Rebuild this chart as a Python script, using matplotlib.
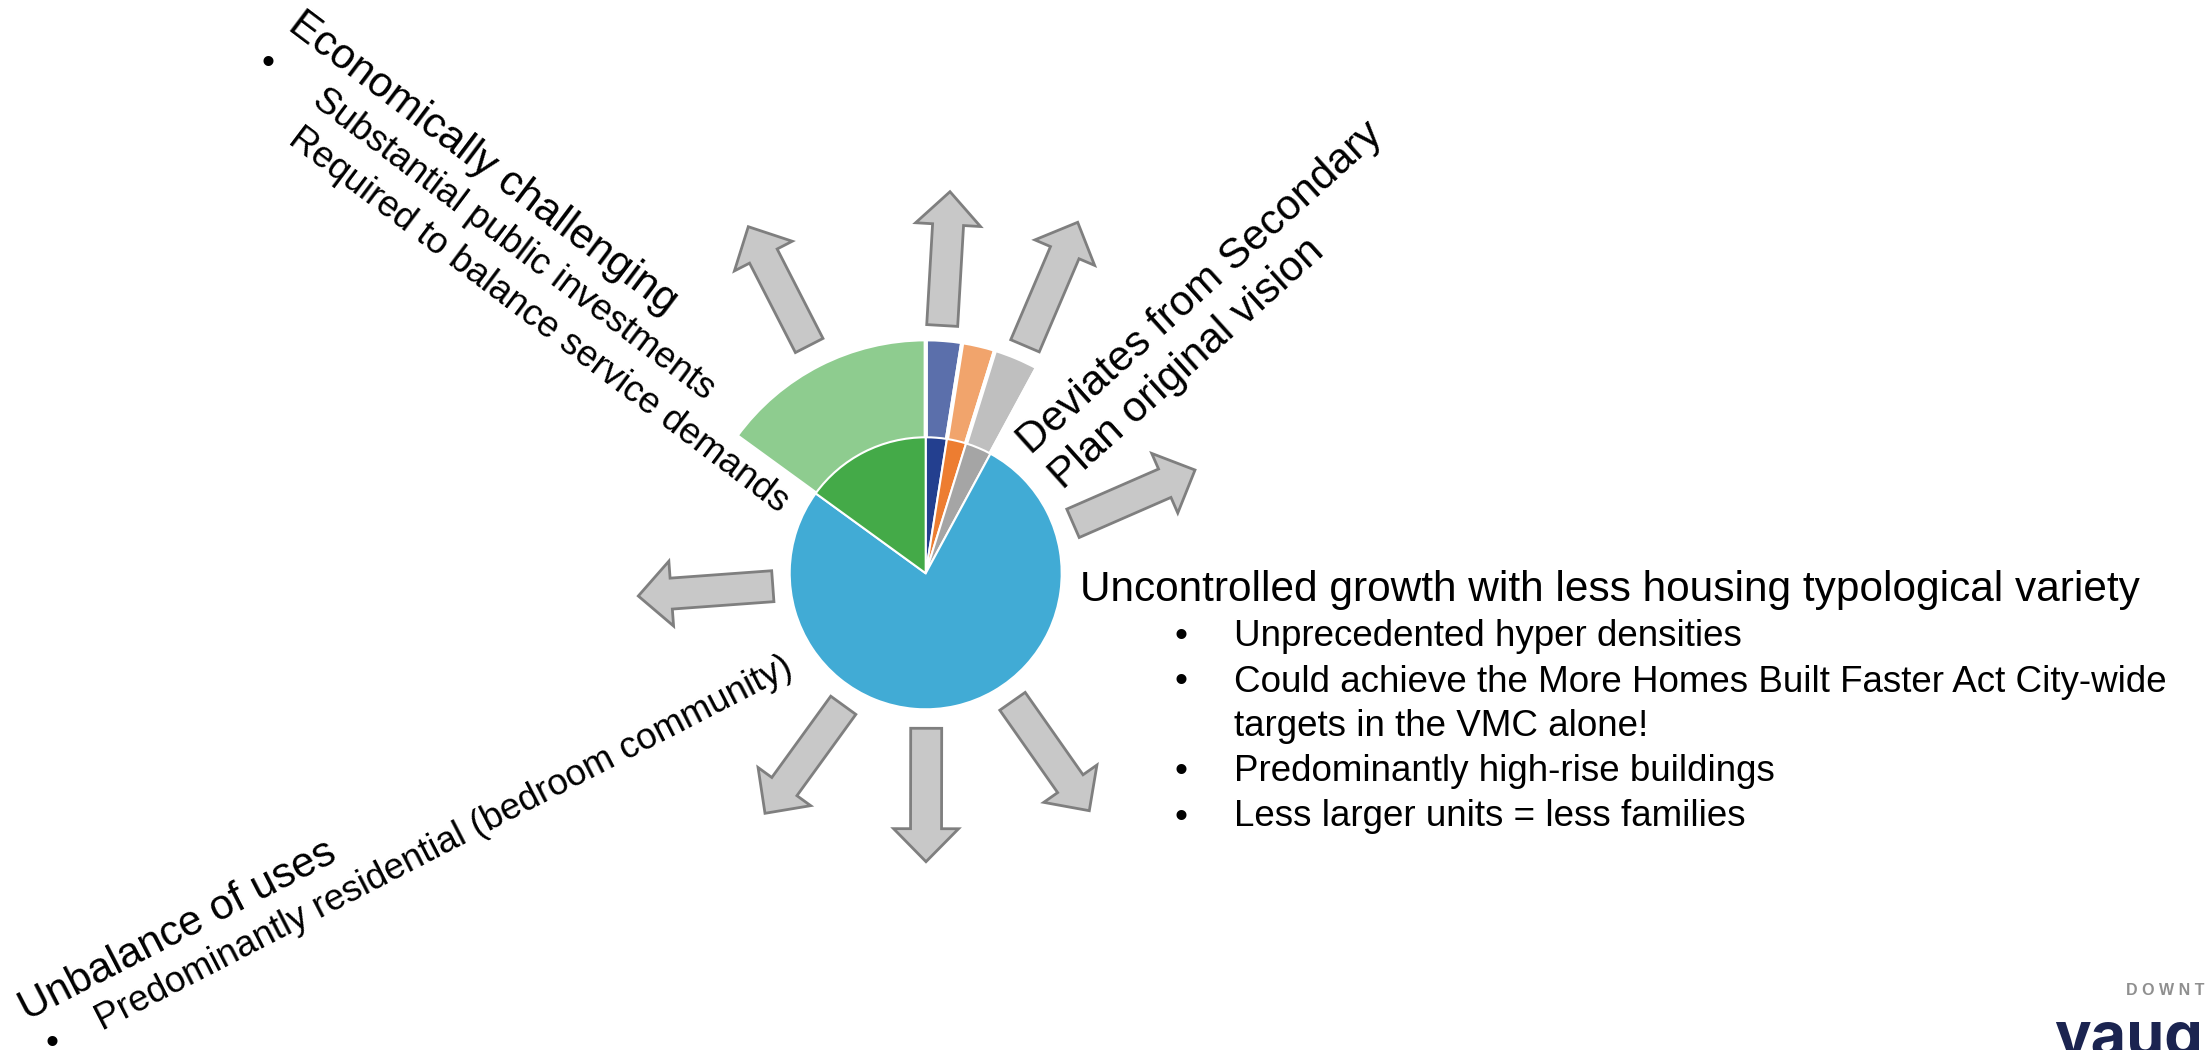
import matplotlib.pyplot as plt
from matplotlib.patches import FancyArrow

plt.rcParams['font.family'] = ['Liberation Sans', 'DejaVu Sans']

# slice shares in percent, clockwise from 12 o'clock
shares = [2.5, 2.3, 3.1, 77.1, 15.0]
inner_colors = ['#233F8F', '#ED7D31', '#A5A5A5', '#41ABD5', '#44AA48']
# lighter extension drawn behind every slice except the large blue one
outer_colors = ['#5B6FAB', '#F1A46C', '#BFBFBF', 'none', '#8ECC8F']

heading_size = 30.5
bullet_size = 26.5

right_title = 'Uncontrolled growth with less housing typological variety'
right_bullets = [
    ['Unprecedented hyper densities'],
    ['Could achieve the More Homes Built Faster Act City-wide',
     'targets in the VMC alone!'],
    ['Predominantly high-rise buildings'],
    ['Less larger units = less families'],
]

W, H = 2205, 1050
fig = plt.figure(figsize=(W / 100, H / 100), dpi=100)
ax = fig.add_axes([0, 0, 1, 1])

center = (925.7, 573.3)
# y axis is flipped below, so counterclock in data = clockwise on screen
ax.pie(shares, radius=234, center=center, startangle=-90, counterclock=True,
       colors=outer_colors,
       wedgeprops=dict(edgecolor='white', linewidth=3))
ax.pie(shares, radius=136, center=center, startangle=-90, counterclock=True,
       colors=inner_colors,
       wedgeprops=dict(edgecolor='white', linewidth=1.5))

# block arrows around the pie: (tail, tip)
arrows = [
    ((809.2, 345.5), (748.3, 226.7)),
    ((942.2, 325.5), (950.0, 191.7)),
    ((1025.0, 345.8), (1077.7, 222.3)),
    ((1073.0, 523.3), (1195.0, 470.0)),
    ((772.8, 586.2), (638.3, 596.0)),
    ((843.3, 705.3), (765.0, 813.3)),
    ((926.2, 728.3), (926.0, 861.7)),
    ((1012.5, 701.3), (1089.3, 810.7)),
]
for (x0, y0), (x1, y1) in arrows:
    ax.add_patch(FancyArrow(x0, y0, x1 - x0, y1 - y0, width=31,
                            head_width=65, head_length=33,
                            length_includes_head=True,
                            fc='#C8C8C8', ec='#7F7F7F', lw=2, zorder=3))

def label(x, y, s, size, rot=0):
    ax.text(x, y, s, fontsize=size, rotation=rot, rotation_mode='anchor',
            ha='left', va='baseline', color='black', zorder=5)

# top-left block
label(286.6, 28.7, 'Economically challenging', heading_size, -37)
label(311.1, 103.2, 'Substantial public investments', bullet_size, -37)
label(286.4, 142.5, 'Required to balance service demands', bullet_size, -37)
ax.text(268, 63, '\u2022', fontsize=bullet_size, ha='center', va='center')

# upper-right block
label(1030.5, 454.9, 'Deviates from Secondary', heading_size, 42)
label(1063.0, 490.8, 'Plan original vision', heading_size, 42)

# lower-left block
label(26.7, 1020.6, 'Unbalance of uses', heading_size, 27.3)
label(101.9, 1030.7, 'Predominantly residential (bedroom community)',
      bullet_size, 27.3)
ax.text(51.7, 1043.3, '\u2022', fontsize=bullet_size, ha='center', va='center')

# right block
label(1079.5, 601, right_title, heading_size)
y = 646
for item in right_bullets:
    ax.text(1181, y, '\u2022', fontsize=bullet_size, ha='center',
            va='baseline')
    for i, line in enumerate(item):
        label(1234, y, line, bullet_size)
        y += 44 if i < len(item) - 1 else 0
    y += 45.5

# corner logo, running off the page edge
ax.text(2126, 995, 'D O W N T O W N', fontsize=11.5, fontweight='bold',
        color='#8F8F8F', ha='left', va='baseline')
ax.text(2054, 1056, 'vaughan', fontsize=44, fontweight='bold',
        family=['Inter', 'DejaVu Sans'], color='#1B2450', ha='left',
        va='baseline')

ax.set_xlim(0, W)
ax.set_ylim(H, 0)
ax.axis('off')
fig.savefig('out.png', dpi=100, facecolor='white')
